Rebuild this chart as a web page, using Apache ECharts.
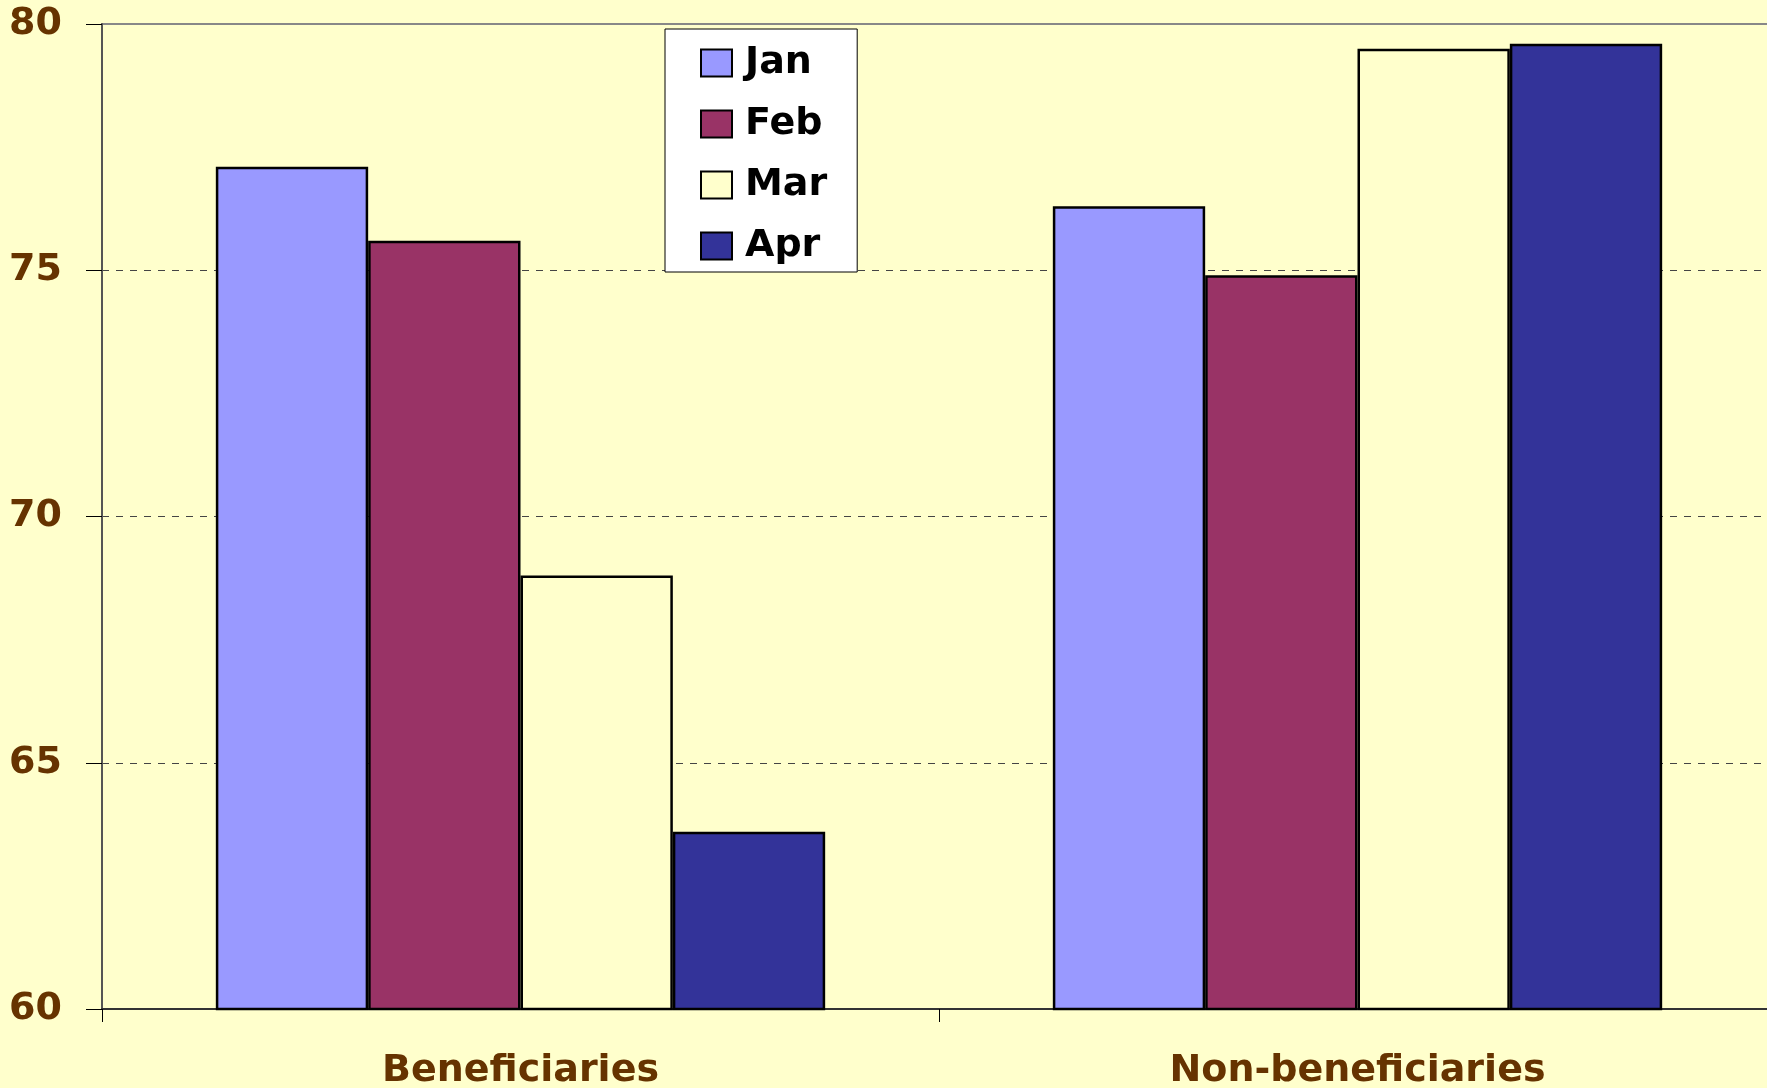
<!DOCTYPE html>
<html>
<head>
<meta charset="utf-8">
<script src="https://cdn.jsdelivr.net/npm/echarts@6/dist/echarts.min.js"></script>
<style>
  html, body { margin: 0; padding: 0; background: #FFFFCC; }
  #chart { width: 1767px; height: 1088px; }
</style>
</head>
<body>
<div id="chart"></div>
<script>
// data
var categories = ['Beneficiaries', 'Non-beneficiaries'];
var months = ['Jan', 'Feb', 'Mar', 'Apr'];
var janValues = [77.1, 76.3];
var febValues = [75.6, 74.9];
var marValues = [68.8, 79.5];
var aprValues = [63.6, 79.6];
var yTicks = [60, 65, 70, 75, 80];

var colors = ['#9999FF', '#993366', '#FFFFCC', '#333399'];
var seriesValues = [janValues, febValues, marValues, aprValues];
var labelColor = '#663300';
var fontName = '"DejaVu Sans", Arial, sans-serif';

var chart = echarts.init(document.getElementById('chart'));

var series = months.map(function (m, i) {
    return {
        name: m,
        type: 'bar',
        data: seriesValues[i],
        barGap: '0%',
        barCategoryGap: '27.2%',
        itemStyle: {
            color: colors[i],
            borderColor: '#000',
            borderWidth: 2.5
        }
    };
});

var option = {
    backgroundColor: '#FFFFCC',
    animation: false,
    grid: {
        left: 102,
        top: 24,
        width: 1674,   // plot runs a little past the right edge
        bottom: 79,
        outerBoundsMode: 'none',
        show: true,
        backgroundColor: '#FFFFCC',
        borderColor: '#888',
        borderWidth: 2
    },
    legend: {
        orient: 'vertical',
        left: 665,
        top: 29,
        data: months,
        icon: 'rect',
        itemWidth: 31,
        itemHeight: 27,
        itemGap: 23,
        padding: [15, 30, 7, 35],
        backgroundColor: '#fff',
        borderColor: '#000',
        borderWidth: 1,
        textStyle: {
            fontFamily: fontName,
            fontWeight: 'bold',
            fontSize: 38,
            color: '#000',
            padding: [0, 0, 0, 8]
        }
    },
    xAxis: {
        type: 'category',
        data: categories,
        axisLine: { lineStyle: { color: '#333', width: 2 } },
        axisTick: { show: true, length: 13, lineStyle: { color: '#000' } },
        axisLabel: {
            margin: 43,
            fontFamily: fontName,
            fontWeight: 'bold',
            fontSize: 38,
            color: labelColor
        }
    },
    yAxis: {
        type: 'value',
        min: yTicks[0],
        max: yTicks[yTicks.length - 1],
        interval: 5,
        axisLine: { show: true, lineStyle: { color: '#555', width: 2 } },
        axisTick: { show: true, length: 16, lineStyle: { color: '#000' } },
        axisLabel: {
            margin: 40,
            fontFamily: fontName,
            fontWeight: 'bold',
            fontSize: 38,
            color: labelColor
        },
        splitLine: {
            show: true,
            showMinLine: false,
            showMaxLine: false,
            lineStyle: { color: '#444', type: [7, 7], width: 1 }
        }
    },
    series: series
};

chart.setOption(option);
</script>
</body>
</html>
